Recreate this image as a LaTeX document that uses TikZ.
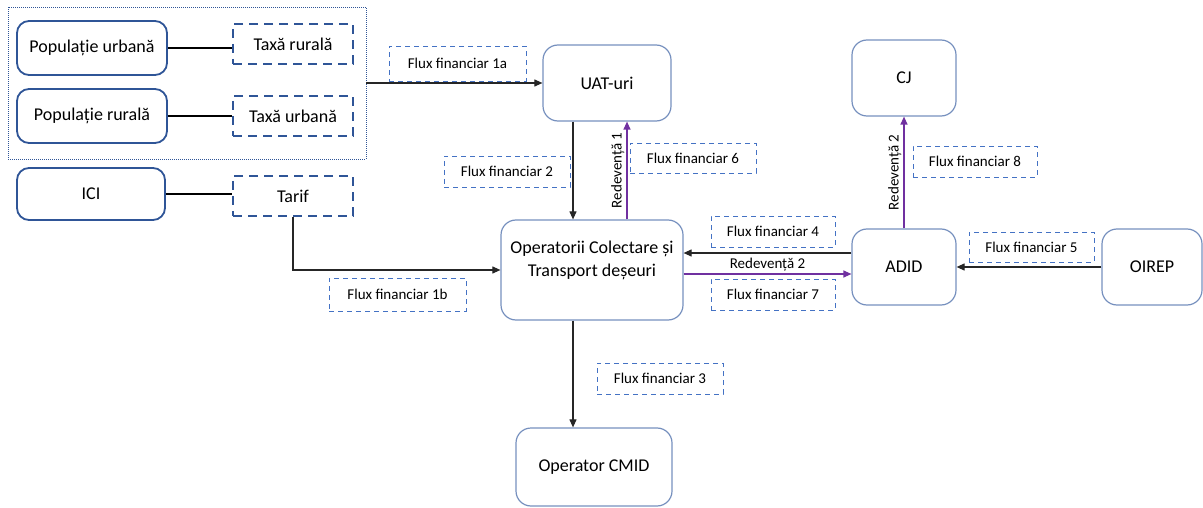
\documentclass[tikz,border=0pt]{standalone}
\usepackage{fontspec}
\setmainfont{Carlito}
\usetikzlibrary{arrows.meta,positioning}

\definecolor{boxblue}{RGB}{47,85,151}
\definecolor{edgeblue}{RGB}{118,144,190}
\definecolor{fluxblue}{RGB}{68,114,196}
\definecolor{redev}{RGB}{112,48,160}

\begin{document}
\begin{tikzpicture}[x=1pt,y=-1pt,
	popbox/.style={draw=boxblue,line width=1.8pt,rounded corners=12pt,inner sep=0pt,font=\fontsize{18}{21}\selectfont},
	taxbox/.style={draw=boxblue,line width=1.8pt,dash pattern=on 9pt off 6pt,inner sep=0pt,font=\fontsize{18}{21}\selectfont},
	entbox/.style={draw=edgeblue,line width=1.2pt,rounded corners=15pt,inner sep=0pt,font=\fontsize{18}{21}\selectfont},
	fluxbox/.style={draw=fluxblue,line width=0.9pt,dash pattern=on 5pt off 4pt,inner sep=0pt,font=\fontsize{15}{18}\selectfont},
	groupbox/.style={draw=boxblue,line width=0.8pt,dash pattern=on 1pt off 1pt,inner sep=0pt},
	link/.style={line width=1.8pt},
	flow/.style={draw=black!85,line width=1.1pt,-{Triangle[length=8pt,width=7pt]}},
	redflow/.style={draw=redev,line width=1.2pt,-{Triangle[length=8pt,width=7pt]}},
	redlabel/.style={font=\fontsize{15}{18}\selectfont,inner sep=2pt}]

	\useasboundingbox (0,0) rectangle (1203,508);

	%Draws the payers and their taxes on the left
	\node[groupbox,minimum width=358pt,minimum height=152pt] (grp) at (187,83) {};
	\node[popbox,minimum width=150pt,minimum height=54pt] (popU) at (92,48) {Populație urbană};
	\node[taxbox,minimum width=120pt,minimum height=40pt] (taxR) at (293,44) {Taxă rurală};
	\node[popbox,minimum width=150pt,minimum height=54pt] (popR) at (92,116) {Populație rurală};
	\node[taxbox,minimum width=120pt,minimum height=40pt] (taxU) at (293,116) {Taxă urbană};
	\node[popbox,minimum width=148pt,minimum height=52pt] (ici) at (91,194) {ICI};
	\node[taxbox,minimum width=120pt,minimum height=40pt] (tarif) at (293,196) {Tarif};

	\draw[link] (popU.east) -- (popU.east -| taxR.west);
	\draw[link] (popR.east) -- (popR.east -| taxU.west);
	\draw[link] (ici.east) -- (ici.east -| tarif.west);

	%Draws the main entities
	\node[entbox,minimum width=128pt,minimum height=76pt] (uat) at (607,83) {UAT-uri};
	\node[entbox,minimum width=182pt,minimum height=100pt] (op) at (592,270)
		{\raisebox{5pt}[0pt][0pt]{\begin{tabular}{@{}c@{}}Operatorii Colectare și\\[2pt]Transport deșeuri\end{tabular}}};
	\node[entbox,minimum width=156pt,minimum height=78pt] (cmid) at (594,467) {Operator CMID};
	\node[entbox,minimum width=104pt,minimum height=76pt] (cj) at (904,78) {CJ};
	\node[entbox,minimum width=104pt,minimum height=76pt] (adid) at (904,267) {ADID};
	\node[entbox,minimum width=100pt,minimum height=76pt] (oirep) at (1152,267) {OIREP};

	%Labels of the financial flows
	\node[fluxbox,minimum width=137pt,minimum height=35pt] (f1a) at (457.5,63.5) {Flux financiar 1a};
	\node[fluxbox,minimum width=137pt,minimum height=33pt] (f1b) at (397.5,294.5) {Flux financiar 1b};
	\node[fluxbox,minimum width=126pt,minimum height=31pt] (f2) at (507,171.5) {Flux financiar 2};
	\node[fluxbox,minimum width=126pt,minimum height=31pt] (f3) at (660,378.5) {Flux financiar 3};
	\node[fluxbox,minimum width=124pt,minimum height=31pt] (f4) at (773,231.5) {Flux financiar 4};
	\node[fluxbox,minimum width=125pt,minimum height=30pt] (f5) at (1031.5,247) {Flux financiar 5};
	\node[fluxbox,minimum width=126pt,minimum height=30pt] (f6) at (693,158) {Flux financiar 6};
	\node[fluxbox,minimum width=124pt,minimum height=31pt] (f7) at (773,294.5) {Flux financiar 7};
	\node[fluxbox,minimum width=124pt,minimum height=31pt] (f8) at (975,161.5) {Flux financiar 8};

	%Draws the flows between the entities
	\draw[flow] (grp.east) -- (uat.west);
	\draw[flow] (tarif.south) |- (op.west);
	\draw[flow] ([xshift=-34pt]uat.south) -- ([xshift=-34pt]uat.south |- op.north);
	\draw[redflow] ([xshift=20pt]uat.south |- op.north) -- node[redlabel,above,sloped] {Redevență 1} ([xshift=20pt]uat.south);
	\draw[flow] ([yshift=14pt]adid.west) -- ([yshift=14pt]adid.west -| op.east);
	\draw[redflow] ([yshift=-7pt]adid.west -| op.east) -- node[redlabel,above] {Redevență 2} ([yshift=-7pt]adid.west);
	\draw[flow] (oirep.west) -- (adid.east);
	\draw[redflow] (adid.north) -- node[redlabel,above,sloped] {Redevență 2} (cj.south);
	\draw[flow] ([xshift=-19pt]op.south) -- ([xshift=-19pt]op.south |- cmid.north);
\end{tikzpicture}
\end{document}
